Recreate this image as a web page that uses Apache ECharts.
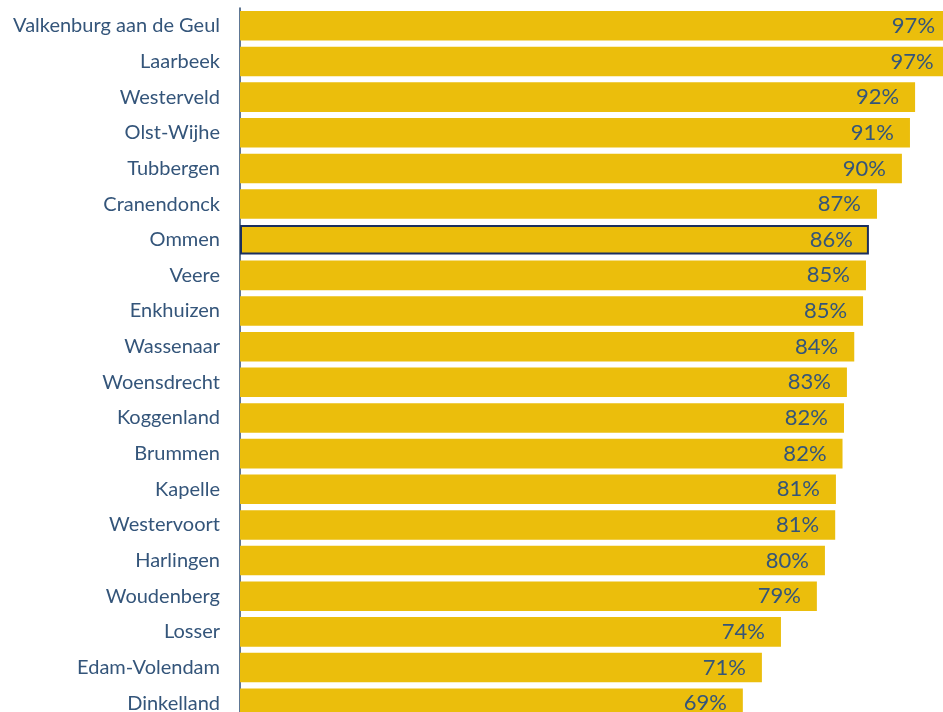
<!DOCTYPE html>
<html>
<head>
<meta charset="utf-8">
<script src="https://cdn.jsdelivr.net/npm/echarts@6/dist/echarts.min.js"></script>
<style>
  html, body { margin: 0; padding: 0; background: #fff; overflow: hidden; }
  /* de grafiek loopt rechts en onder iets door buiten beeld */
  #chart { width: 973px; height: 721px; }
</style>
</head>
<body>
<div id="chart"></div>
<script>
// gemeenten, van hoog naar laag
let gemeenten = ["Valkenburg aan de Geul", "Laarbeek", "Westerveld", "Olst-Wijhe", "Tubbergen",
    "Cranendonck", "Ommen", "Veere", "Enkhuizen", "Wassenaar", "Woensdrecht", "Koggenland",
    "Brummen", "Kapelle", "Westervoort", "Harlingen", "Woudenberg", "Losser", "Edam-Volendam", "Dinkelland"];
let waarden = [97.0, 96.8, 92.1, 91.4, 90.3, 86.9, 85.8, 85.4, 85.0, 83.8, 82.8, 82.4,
    82.2, 81.3, 81.2, 79.8, 78.7, 73.8, 71.2, 68.6];
let uitgelicht = "Ommen";

let chart = echarts.init(document.getElementById('chart'));

const option = {
    animation: false,
    grid: {
        left: 240,
        right: 0,
        top: 8,
        bottom: 0
    },
    xAxis: {
        type: 'value',
        min: 0,
        max: 100,
        show: false
    },
    yAxis: {
        type: 'category',
        inverse: true,
        data: gemeenten,
        axisLine: {
            show: true,
            lineStyle: { color: '#2b4a70', width: 1.5 }
        },
        axisTick: { show: false },
        axisLabel: {
            color: '#34557a',
            fontFamily: 'Lato',
            fontSize: 20,
            margin: 20
        }
    },
    series: [{
        type: 'bar',
        barCategoryGap: '17%',
        clip: false,
        data: waarden.map((v, i) => {
            let item = { value: v };
            if (gemeenten[i] === uitgelicht) {
                item.itemStyle = { borderColor: '#1b2f5e', borderWidth: 2 };
            }
            return item;
        }),
        itemStyle: { color: '#ebbe0c' },
        label: {
            show: true,
            position: 'insideRight',
            distance: 16,
            color: '#34557a',
            fontFamily: 'Lato',
            fontSize: 22,
            formatter: p => Math.round(p.value) + '%'
        }
    }]
};
chart.setOption(option);
</script>
</body>
</html>
